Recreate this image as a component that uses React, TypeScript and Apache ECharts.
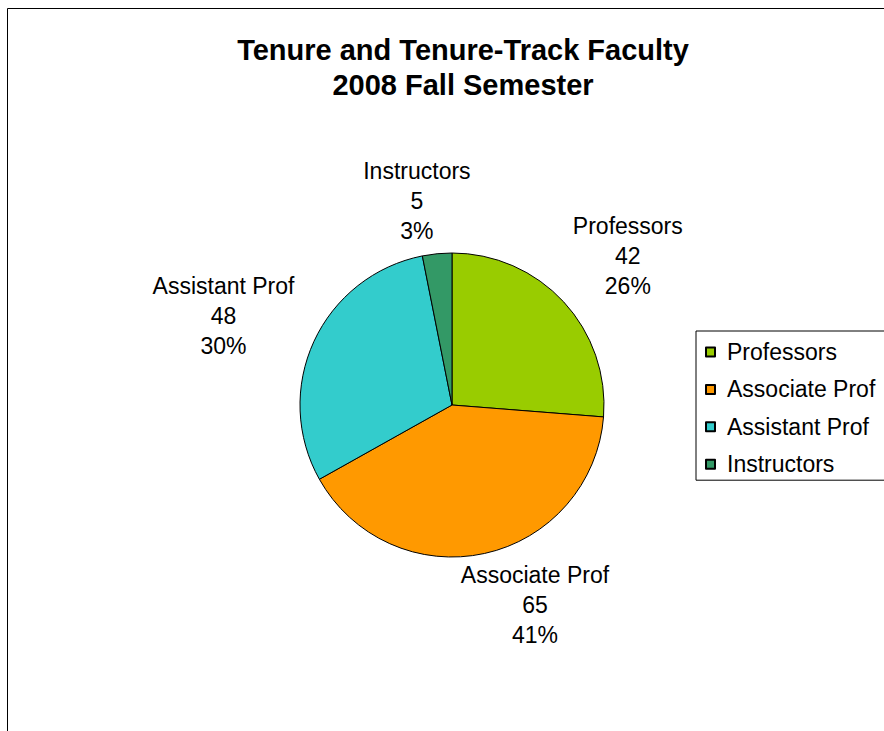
import React, { useEffect, useRef } from 'react';
import * as echarts from 'echarts';

const titleLines = ['Tenure and Tenure-Track Faculty', '2008 Fall Semester'];
const categories = ['Professors', 'Associate Prof', 'Assistant Prof', 'Instructors'];
const counts = [42, 65, 48, 5];
const sliceColors = ['#99CC00', '#FF9900', '#33CCCC', '#339966'];
const labelLineLength = [67, 53, 60, 53];
const labelLineLength2 = [10, 34, 31, 10];

const FONT = "'Liberation Sans', Arial, sans-serif";

export default function App() {
  const ref = useRef<HTMLDivElement>(null);
  useEffect(() => {
    if (!ref.current) return;
    const chart = echarts.init(ref.current, null, { renderer: 'svg' });
    const data = categories.map((name, i) => ({
      name,
      value: counts[i],
      itemStyle: { color: sliceColors[i] },
      labelLine: { show: false, length: labelLineLength[i], length2: labelLineLength2[i] },
    }));
    chart.setOption({
      animation: false,
      backgroundColor: '#ffffff',
      graphic: [
        {
          type: 'rect',
          shape: { x: 7.5, y: 8.5, width: 1200, height: 1200 },
          style: { fill: 'none', stroke: '#000', lineWidth: 1 },
          silent: true,
          z: -1,
        },
        {
          type: 'text',
          x: 463,
          y: 67,
          style: {
            text: titleLines.join('\n'),
            fontFamily: FONT,
            fontSize: 29,
            fontWeight: 'bold',
            lineHeight: 35,
            fill: '#000',
            align: 'center',
            verticalAlign: 'middle',
          },
        },
      ],
      legend: {
        orient: 'vertical',
        left: 696,
        top: 331,
        padding: [9, 40, 4, 9],
        borderColor: '#000',
        borderWidth: 1,
        itemWidth: 9,
        itemHeight: 9,
        itemGap: 13.4,
        icon: 'rect',
        selectedMode: false,
        textStyle: { fontSize: 23, fontFamily: FONT, color: '#000', lineHeight: 24, padding: [0, 0, 0, 7] },
        data: categories,
      },
      series: [
        {
          type: 'pie',
          center: [452, 405],
          radius: 152,
          startAngle: 90,
          clockwise: true,
          percentPrecision: 0,
          avoidLabelOverlap: false,
          itemStyle: { borderColor: '#000', borderWidth: 1 },
          emphasis: { disabled: true },
          label: {
            show: true,
            position: 'outside',
            formatter: '{b}\n{c}\n{d}%',
            fontFamily: FONT,
            fontSize: 23,
            lineHeight: 30,
            color: '#000',
          },
          labelLayout: () => ({ align: 'center', verticalAlign: 'middle' }),
          data,
        },
      ],
    });
    return () => chart.dispose();
  }, []);
  return (
    <div
      ref={ref}
      style={{ position: 'absolute', left: 0, top: 0, width: 884, height: 731, background: '#fff' }}
    />
  );
}
